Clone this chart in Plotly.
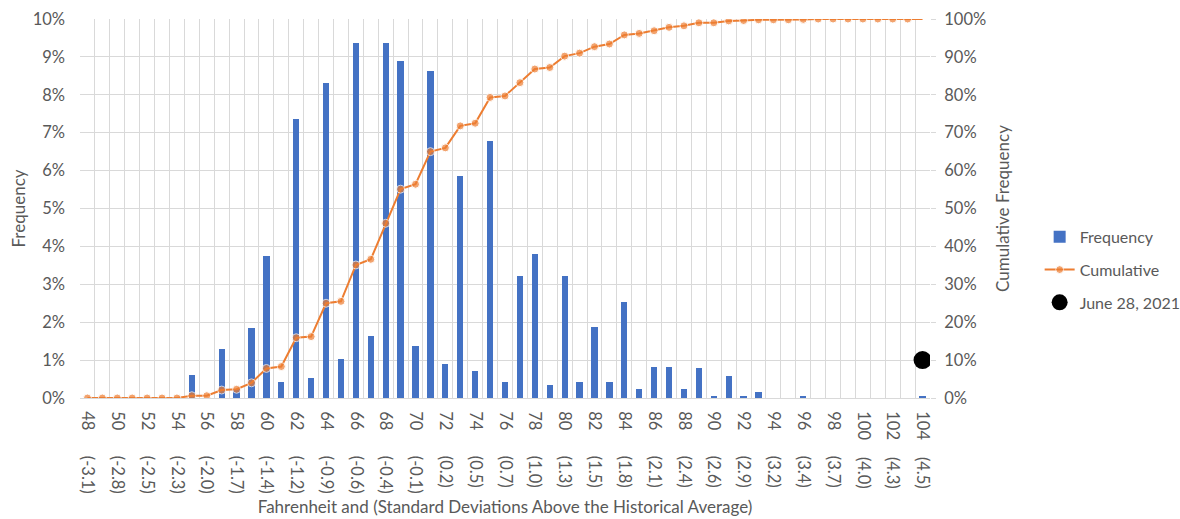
import plotly.graph_objects as go

temps = [48, 49, 50, 51, 52, 53, 54, 55, 56, 57, 58, 59, 60, 61, 62, 63, 64, 65, 66, 67,
         68, 69, 70, 71, 72, 73, 74, 75, 76, 77, 78, 79, 80, 81, 82, 83, 84, 85, 86, 87,
         88, 89, 90, 91, 92, 93, 94, 95, 96, 97, 98, 99, 100, 101, 102, 103, 104]

frequency = [0, 0, 0, 0, 0, 0, 0, 0.62, 0, 1.28, 0.25, 1.84, 3.76, 0.41, 7.35, 0.53, 8.30, 1.03,
             9.36, 1.64, 9.36, 8.90, 1.37, 8.63, 0.90, 5.86, 0.72, 6.79, 0.42, 3.22, 3.80, 0.33,
             3.22, 0.42, 1.88, 0.42, 2.54, 0.24, 0.83, 0.83, 0.24, 0.78, 0.05, 0.58, 0.05, 0.17,
             0, 0, 0.05, 0, 0, 0, 0, 0, 0, 0, 0.04]

cumulative = [0, 0, 0, 0, 0, 0, 0, 0.6, 0.6, 2.1, 2.3, 4.0, 7.8, 8.3, 15.9, 16.2, 25.0, 25.5,
              35.1, 36.6, 46.1, 55.1, 56.4, 65.0, 66.0, 71.8, 72.5, 79.3, 79.7, 83.2, 86.8, 87.2,
              90.2, 91.0, 92.7, 93.4, 95.8, 96.2, 96.9, 97.8, 98.2, 99.0, 99.0, 99.5, 99.6, 99.8,
              99.8, 99.8, 99.9, 100, 100, 100, 100, 100, 100, 100, 100]

tick_temps = [48, 50, 52, 54, 56, 58, 60, 62, 64, 66, 68, 70, 72, 74, 76, 78, 80, 82, 84, 86,
              88, 90, 92, 94, 96, 98, 100, 102, 104]
tick_sd = ["(-3.1)", "(-2.8)", "(-2.5)", "(-2.3)", "(-2.0)", "(-1.7)", "(-1.4)", "(-1.2)",
           "(-0.9)", "(-0.6)", "(-0.4)", "(-0.1)", "(0.2)", "(0.5)", "(0.7)", "(1.0)", "(1.3)",
           "(1.5)", "(1.8)", "(2.1)", "(2.4)", "(2.6)", "(2.9)", "(3.2)", "(3.4)", "(3.7)",
           "(4.0)", "(4.3)", "(4.5)"]

event_temp = [104]
event_value = [10]
event_label = "June 28, 2021"

NB = "\u00a0"
ticktext = []
for t, s in zip(tick_temps, tick_sd):
    pad = 6 if t < 100 else 4
    ticktext.append(f"{t}{NB * pad}{s}")

FONT = "Lato"
GREY = "#595959"
GRID = "#D9D9D9"
TICK = 16.5
TITLE = 17

fig = go.Figure()
fig.add_trace(go.Bar(
    x=temps, y=frequency, name="Frequency", width=0.42,
    marker=dict(color="#4472C4", line=dict(width=0)),
    legendgroup="a", yaxis="y"))
fig.add_trace(go.Scatter(
    x=temps, y=cumulative, name="Cumulative", mode="lines+markers",
    line=dict(color="#ED7D31", width=2),
    marker=dict(color="#ED7D31", size=[8] * (len(temps) - 1) + [0]),
    legendgroup="b", yaxis="y2"))
fig.add_trace(go.Scatter(
    x=event_temp, y=event_value, name=event_label, mode="markers",
    marker=dict(color="black", size=18),
    legendgroup="c", yaxis="y2"))

fig.update_layout(
    width=1180, height=519,
    margin=dict(l=80, r=250, t=19, b=121, autoexpand=False),
    paper_bgcolor="white", plot_bgcolor="white",
    font=dict(family=FONT, size=TICK, color=GREY),
    bargap=0,
    showlegend=True,
    legend=dict(x=1.129, y=0.47, xanchor="left", yanchor="top",
                font=dict(size=16, color=GREY), tracegroupgap=9,
                bgcolor="rgba(0,0,0,0)"),
    xaxis=dict(
        range=[47.5, 104.5], tickmode="array", tickvals=tick_temps, ticktext=ticktext,
        tickangle=90, showgrid=False, ticks="", zeroline=False, automargin=False,
        showline=True, linecolor=GRID, linewidth=1, ticklabelstandoff=9,
        tickfont=dict(size=TICK, color=GREY),
        minor=dict(tickmode="linear", tick0=47.5, dtick=1, showgrid=True,
                   gridcolor=GRID, gridwidth=1, ticks=""),
        title=dict(text="Fahrenheit and (Standard Deviations Above the Historical Average)",
                   font=dict(size=TITLE, color=GREY), standoff=8),
    ),
    yaxis=dict(
        range=[0, 10], dtick=1, ticksuffix="%", showgrid=True, gridcolor=GRID,
        zeroline=False, ticks="", tickfont=dict(size=TICK, color=GREY), automargin=False,
        ticklabelstandoff=14,
        title=dict(text="Frequency", font=dict(size=TITLE, color=GREY), standoff=2),
    ),
    yaxis2=dict(
        range=[0, 100], dtick=10, ticksuffix="%", overlaying="y", side="right",
        showgrid=False, zeroline=False, ticks="outside", ticklen=5, tickcolor=GRID,
        tickfont=dict(size=TICK, color=GREY), automargin=False, ticklabelstandoff=5,
        title=dict(text="Cumulative Frequency", font=dict(size=TITLE, color=GREY), standoff=11),
    ),
)

fig.write_html("out.html", config={"displayModeBar": False},
               post_script="document.body.style.margin='0';")
